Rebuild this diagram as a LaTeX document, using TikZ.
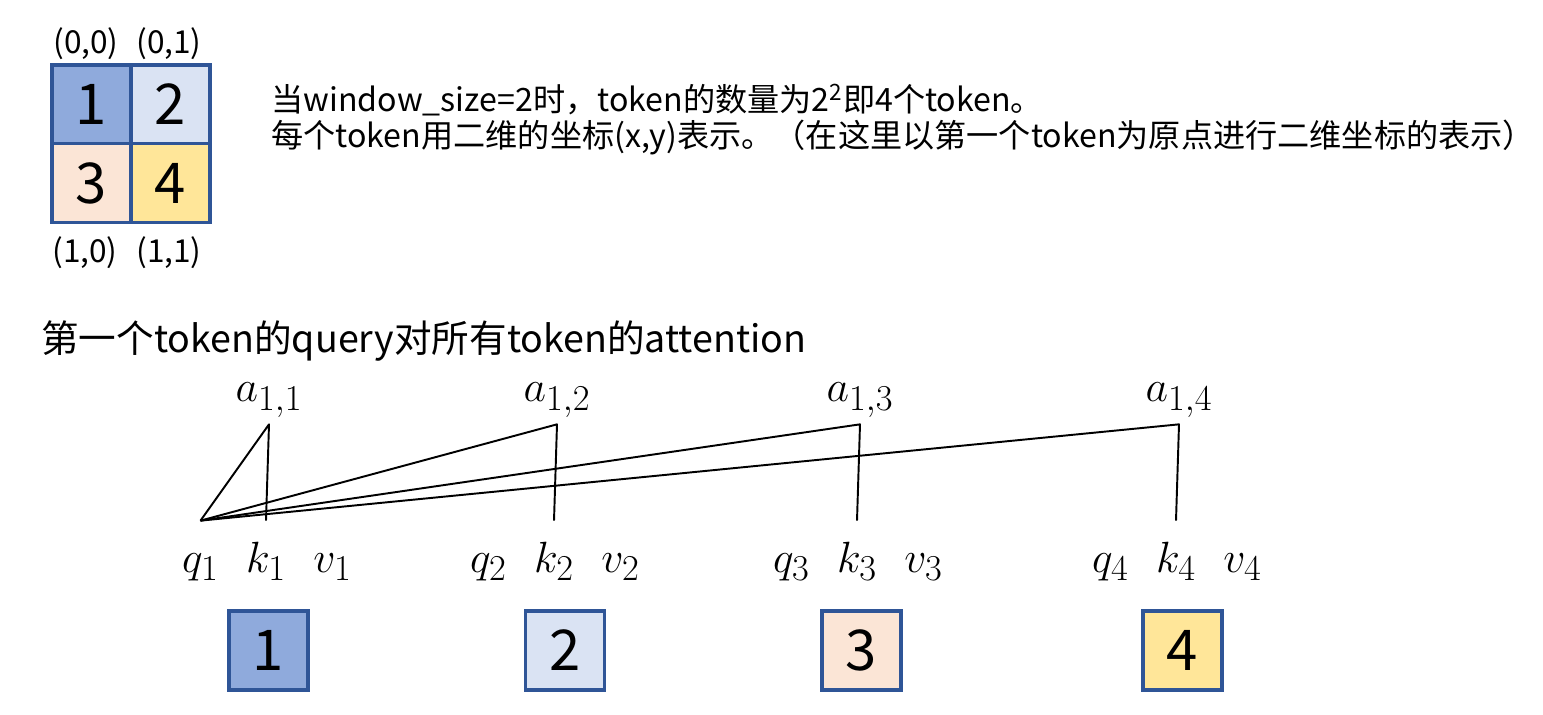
\documentclass[tikz,border=0pt]{standalone}
\usepackage{amsmath}
\usepackage{fontspec}
\newfontfamily\cjk{Noto Sans CJK SC}
\usepackage{xcolor}
\usetikzlibrary{positioning}
\definecolor{frameblue}{HTML}{2F5597}
\definecolor{tokA}{HTML}{8FAADC}
\definecolor{tokB}{HTML}{DAE3F3}
\definecolor{tokC}{HTML}{FBE5D6}
\definecolor{tokD}{HTML}{FFE699}

\begin{document}
\begin{tikzpicture}[
  cell/.style     = {draw=frameblue, line width=1.8pt, minimum size=1.58cm, inner sep=0pt,
                     font=\cjk\fontsize{32}{36}\selectfont},
  coordlbl/.style = {inner sep=0pt, font=\cjk\fontsize{18}{21}\selectfont},
  desc/.style     = {anchor=west, inner sep=0pt, font=\cjk\fontsize{18.3}{22}\selectfont},
  headline/.style = {anchor=west, inner sep=0pt, font=\cjk\fontsize{21.4}{25}\selectfont},
  alab/.style     = {inner sep=0pt, minimum height=0.96cm, font=\fontsize{24.88}{28}\selectfont},
  qkv/.style      = {inner sep=0pt, text height=0.6cm, text depth=0.15cm,
                     minimum height=1.6cm, font=\fontsize{24.88}{28}\selectfont},
  link/.style     = {draw=black, line width=1.1pt, line join=round},
]

\useasboundingbox (0,0) rectangle (30.86,14.3);

% 2x2 window
\foreach \n/\cx/\cy/\col in {1/1.83/12.21/tokA, 2/3.41/12.21/tokB,
                             3/1.83/10.64/tokC, 4/3.41/10.64/tokD}{
  \node[cell, fill=\col] (g\n) at (\cx,\cy) {\n};
}
\node[coordlbl] (c00) at (1.72,13.42) {(0,0)};
\node[coordlbl] (c01) at (3.38,13.42) {(0,1)};
\node[coordlbl] (c10) at (1.70, 9.24) {(1,0)};
\node[coordlbl] (c11) at (3.38, 9.24) {(1,1)};

\node[desc] (note1) at (5.42,12.30)
  {当window\_size=2时，token的数量为2\textsuperscript{2}即4个token。};
\node[desc] (note2) at (5.42,11.54)
  {每个token用二维的坐标(x,y)表示。（在这里以第一个token为原点进行二维坐标的表示）};

\node[headline] (title) at (0.82,7.48) {第一个token的query对所有token的attention};

% q k v of every token, and the scores of token 1
\foreach \i/\cx/\bx/\col in {1/5.32/5.37/tokA, 2/11.08/11.30/tokB,
                             3/17.14/17.23/tokC, 4/23.52/23.65/tokD}{
  \node[qkv] (q\i) at (\cx-1.31,3.08) {$q_{\i}$};
  \node[qkv] (k\i) at (\cx,3.08)      {$k_{\i}$};
  \node[qkv] (v\i) at (\cx+1.33,3.08) {$v_{\i}$};
  \node[alab] (a\i) at (\cx+0.06,6.3) {$a_{1,\i}$};
  \node[cell, fill=\col] (b\i) at (\bx,1.29) {\i};
  \draw[link] (q1.north) -- (a\i.south) -- (k\i.north);
}

\end{tikzpicture}
\end{document}
